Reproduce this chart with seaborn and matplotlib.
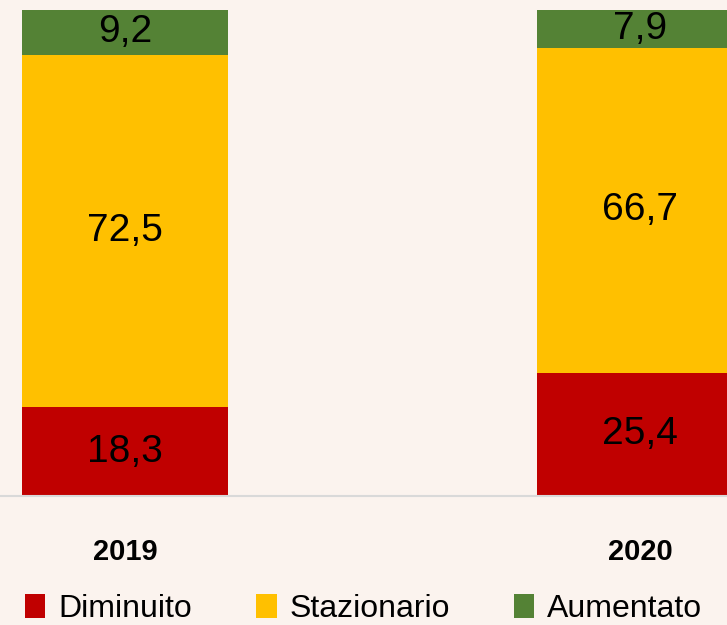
import pandas as pd
import matplotlib.pyplot as plt
import seaborn as sns
from matplotlib.patches import Patch

years = ["2019", "2020"]
diminuito = [18.3, 25.4]
stazionario = [72.5, 66.7]
aumentato = [9.2, 7.9]
series_names = ["Diminuito", "Stazionario", "Aumentato"]
colors = ["#C00000", "#FFC000", "#548235"]
bg = "#FBF3EE"

sns.set_theme(style="white")
plt.rcParams["font.family"] = ["Liberation Sans", "DejaVu Sans"]

df = pd.DataFrame({"anno": years, "Diminuito": diminuito,
                   "Stazionario": stazionario, "Aumentato": aumentato})
df["cum_dim"] = df["Diminuito"]
df["cum_staz"] = df["Diminuito"] + df["Stazionario"]
df["cum_aum"] = df["cum_staz"] + df["Aumentato"]

fig = plt.figure(figsize=(7.27, 6.25), dpi=100, facecolor=bg)
ax = fig.add_axes([0, 1 - 496 / 625, 1, 486 / 625])
ax.set_facecolor(bg)

# stacked bars: draw cumulative totals from the top down
for col, c in zip(["cum_aum", "cum_staz", "cum_dim"], colors[::-1]):
    sns.barplot(data=df, x="anno", y=col, color=c, width=0.4,
                saturation=1, linewidth=0, ax=ax)

# value labels at segment centers
for i in range(len(years)):
    bottom = 0
    for vals in [diminuito, stazionario, aumentato]:
        v = vals[i]
        ax.text(i, bottom + v / 2, f"{v:.1f}".replace(".", ","),
                ha="center", va="center", fontsize=28, color="black")
        bottom += v

ax.set_ylim(0, 100)
ax.set_xlim(-125 / 515, 1 + 87 / 515)
ax.set_xlabel("")
ax.set_ylabel("")
ax.set_yticks([])
for s in ["top", "left", "right"]:
    ax.spines[s].set_visible(False)
ax.spines["bottom"].set_color("#D9D9D9")
ax.spines["bottom"].set_linewidth(1.5)
ax.tick_params(axis="x", length=0, pad=30, labelsize=21, labelcolor="black")
for lbl in ax.get_xticklabels():
    lbl.set_fontweight("bold")

handles = [Patch(facecolor=c, edgecolor="none", label=n)
           for n, c in zip(series_names, colors)]
leg = fig.legend(handles=handles, loc="center", bbox_to_anchor=(0.5, 1 - 609 / 625),
                 ncol=3, frameon=False, fontsize=23, handlelength=0.65,
                 handleheight=0.75, handletextpad=0.4, columnspacing=2.0)
for t in leg.get_texts():
    t.set_color("black")

fig.savefig("out.png", dpi=100, facecolor=bg)
